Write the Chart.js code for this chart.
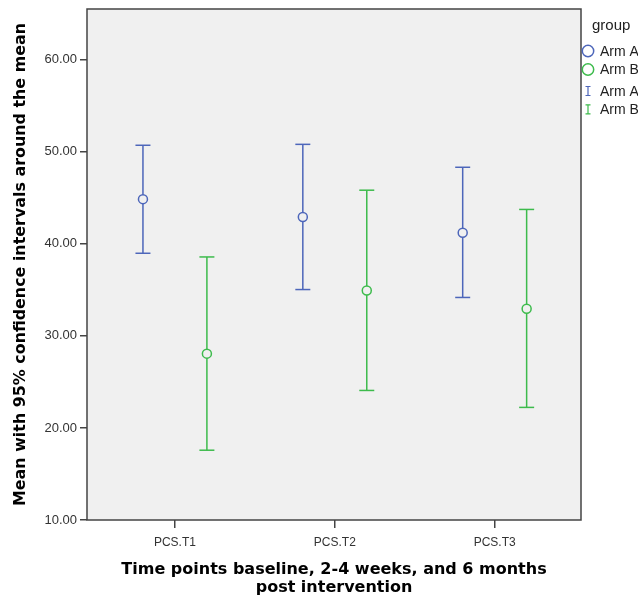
<!DOCTYPE html>
<html>
<head>
<meta charset="utf-8">
<script src="https://cdn.jsdelivr.net/npm/chart.js@4"></script>
<style>
  html, body { margin: 0; padding: 0; background: #fff; }
  #wrap { width: 638px; height: 597px; }
</style>
</head>
<body>
<div id="wrap"><canvas id="chart" width="638" height="597"></canvas></div>
<script>
// values
const categories = ['PCS.T1', 'PCS.T2', 'PCS.T3'];
const groups = ['Arm A', 'Arm B'];
const armAMean = [44.85, 42.9, 41.2];
const armALower = [38.97, 35.03, 34.17];
const armAUpper = [50.7, 50.8, 48.31];
const armBMean = [28.07, 34.92, 32.94];
const armBLower = [17.58, 24.07, 22.23];
const armBUpper = [38.57, 45.82, 43.73];
const yTicks = [10, 20, 30, 40, 50, 60];

const blue = '#4d66ba';
const green = '#3dbb4c';
const plotBg = '#f0f0f0';
const font = "'Liberation Sans', Arial, sans-serif";
const titleFont = "'DejaVu Sans', sans-serif";
const armOffset = 0.2; // cluster spacing around each category tick

function meanPoints(means, off) {
    return means.map((m, i) => ({ x: i + 1 + off, y: m }));
}

// vertical bar + caps, one segment per category (null breaks the line)
function barPoints(lower, upper, off) {
    const out = [];
    categories.forEach((c, i) => {
        const x = i + 1 + off;
        out.push({ x: x, y: lower[i] }, { x: x, y: upper[i] }, { x: x, y: null });
    });
    return out;
}

function meanSet(label, means, off, color) {
    return {
        label: label,
        data: meanPoints(means, off),
        pointStyle: 'circle',
        pointRadius: 4.5,
        pointBorderWidth: 1.5,
        pointBorderColor: color,
        pointBackgroundColor: plotBg,
        showLine: false
    };
}

function barSet(label, lower, upper, off, color) {
    return {
        label: label,
        data: barPoints(lower, upper, off),
        showLine: true,
        spanGaps: false,
        borderColor: color,
        borderWidth: 1.5,
        pointStyle: 'line',
        pointRadius: 7.5,
        pointBorderWidth: 1.5,
        pointBorderColor: color
    };
}

const framePlugin = {
    id: 'frame',
    beforeDraw(chart) {
        const { ctx, chartArea: a } = chart;
        ctx.save();
        ctx.fillStyle = '#fff';
        ctx.fillRect(0, 0, chart.width, chart.height);
        ctx.fillStyle = plotBg;
        ctx.fillRect(a.left, a.top, a.right - a.left, a.bottom - a.top);
        ctx.restore();
    },
    afterDraw(chart) {
        const { ctx, chartArea: a } = chart;
        ctx.save();
        ctx.strokeStyle = '#444';
        ctx.lineWidth = 1.5;
        ctx.strokeRect(a.left, a.top, a.right - a.left, a.bottom - a.top);

        // axis titles
        ctx.fillStyle = '#000';
        ctx.font = 'bold 16px ' + titleFont;
        ctx.textAlign = 'center';
        ctx.textBaseline = 'middle';
        const cx = (a.left + a.right) / 2;
        ctx.fillText('Time points baseline, 2-4 weeks, and 6 months', cx, 570);
        ctx.fillText('post intervention', cx, 588);

        ctx.save();
        ctx.translate(21, 506);
        ctx.rotate(-Math.PI / 2);
        ctx.textAlign = 'left';
        ctx.font = 'bold 15.9px ' + titleFont;
        ctx.fillText('Mean with 95% confidence intervals around the mean', 0, 0);
        ctx.restore();

        // legend
        const lx = a.right + 7;
        ctx.font = '15px ' + font;
        ctx.textAlign = 'left';
        ctx.fillStyle = '#222';
        ctx.fillText('group', a.right + 11, 26);
        ctx.font = '14px ' + font;
        const colors = [blue, green];
        groups.forEach((g, i) => {
            const y = 51 + i * 18.5;
            ctx.strokeStyle = colors[i];
            ctx.lineWidth = 1.5;
            ctx.beginPath();
            ctx.arc(lx, y, 5.7, 0, Math.PI * 2);
            ctx.stroke();
            ctx.fillStyle = '#222';
            ctx.fillText(g, lx + 12, y + 1);
        });
        groups.forEach((g, i) => {
            const y = 91 + i * 18.3;
            ctx.strokeStyle = colors[i];
            ctx.lineWidth = 1.2;
            ctx.beginPath();
            ctx.moveTo(lx, y - 4.5); ctx.lineTo(lx, y + 4.5);
            ctx.moveTo(lx - 2.5, y - 4.5); ctx.lineTo(lx + 2.5, y - 4.5);
            ctx.moveTo(lx - 2.5, y + 4.5); ctx.lineTo(lx + 2.5, y + 4.5);
            ctx.stroke();
            ctx.fillStyle = '#222';
            ctx.fillText(g, lx + 12, y + 1);
        });
        ctx.restore();
    }
};

new Chart(document.getElementById('chart'), {
    type: 'scatter',
    data: {
        datasets: [
            meanSet('Arm A', armAMean, -armOffset, blue),
            meanSet('Arm B', armBMean, armOffset, green),
            barSet('Arm A CI', armALower, armAUpper, -armOffset, blue),
            barSet('Arm B CI', armBLower, armBUpper, armOffset, green)
        ]
    },
    options: {
        responsive: false,
        animation: false,
        layout: { padding: { top: 8, right: 57, left: 0, bottom: 0 } },
        plugins: { legend: { display: false }, tooltip: { enabled: false } },
        scales: {
            x: {
                type: 'linear',
                min: 0.45,
                max: 3.54,
                afterBuildTicks: s => { s.ticks = categories.map((c, i) => ({ value: i + 1 })); },
                afterFit: s => { s.height = 77; },
                border: { display: false },
                grid: { drawOnChartArea: false, drawTicks: true, tickLength: 8, color: '#444', lineWidth: 1.5 },
                ticks: {
                    padding: 7,
                    color: '#333',
                    font: { family: font, size: 12 },
                    callback: v => categories[v - 1]
                }
            },
            y: {
                min: 10,
                max: 65.5,
                afterBuildTicks: s => { s.ticks = yTicks.map(v => ({ value: v })); },
                afterFit: s => { s.width = 87; s.paddingTop = 0; s.paddingBottom = 0; },
                border: { display: false },
                grid: { drawOnChartArea: false, drawTicks: true, tickLength: 7, color: '#444', lineWidth: 1.5 },
                ticks: {
                    padding: 3,
                    color: '#333',
                    font: { family: font, size: 13, lineHeight: 1 },
                    callback: v => Number(v).toFixed(2)
                }
            }
        }
    },
    plugins: [framePlugin]
});
</script>
</body>
</html>
